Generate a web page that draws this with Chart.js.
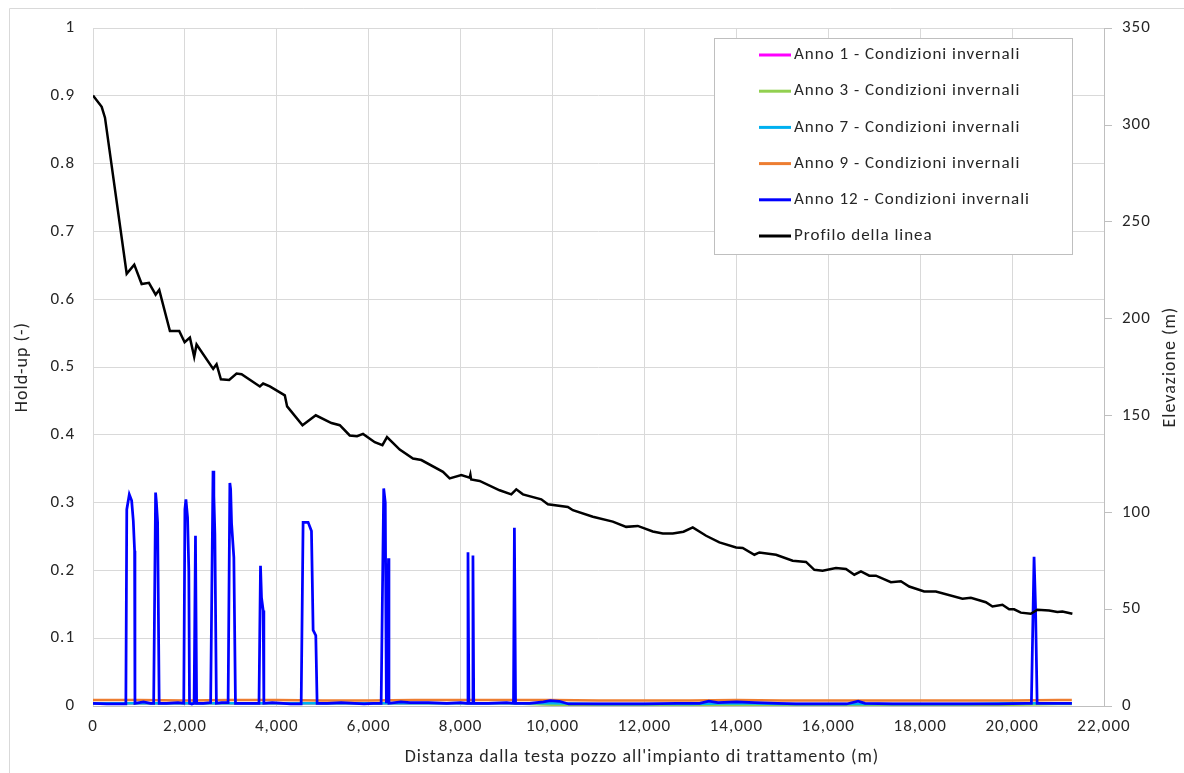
<!DOCTYPE html>
<html lang="it">
<head>
<meta charset="utf-8">
<title>Hold-up lungo la linea</title>
<script src="https://cdn.jsdelivr.net/npm/chart.js@4.4.1/dist/chart.umd.min.js"></script>
<style>
  html, body { margin: 0; padding: 0; background: #fff; }
  #wrap { position: relative; width: 1184px; height: 773px; }
</style>
</head>
<body>
<div id="wrap"><canvas id="holdupChart" width="1184" height="773"></canvas></div>
<script>
// profilo altimetrico della linea (m, m s.l.m.)
var distanzaProfilo = [0, 189, 261, 733, 898, 1059, 1217, 1363, 1441, 1674, 1876, 1994, 2109, 2202, 2254,
    2615, 2689, 2783, 2963, 3124, 3233, 3631, 3702, 3848, 4174, 4224, 4559, 4848, 5189, 5370, 5587, 5746,
    5876, 6131, 6298, 6398, 6493, 6674, 6963, 7145, 7616, 7761, 8015, 8196, 8212, 8228, 8413, 8848, 9102,
    9211, 9355, 9755, 9898, 10333, 10442, 10877, 11311, 11602, 11855, 12181, 12399, 12616, 12850, 13051,
    13342, 13631, 13994, 14138, 14392, 14501, 14863, 15225, 15516, 15697, 15877, 16168, 16385, 16566,
    16711, 16892, 17037, 17363, 17580, 17761, 18087, 18342, 18920, 19103, 19429, 19573, 19790, 19936,
    20044, 20190, 20407, 20551, 20805, 20986, 21095, 21312];
var elevazione = [315.3, 309.4, 303.8, 223.2, 227.9, 217.9, 218.5, 212.4, 214.9, 193.6, 193.6, 187.8, 190.2, 180.3, 186.7,
    174.1, 176.5, 168.7, 168.4, 171.7, 171.3, 165.0, 166.5, 165.0, 160.4, 154.7, 145.0, 150.1, 146.1, 145.0, 139.7, 139.3,
    140.5, 136.2, 134.7, 138.9, 136.7, 132.4, 127.8, 127.0, 120.9, 117.5, 119.2, 117.9, 119.4, 117.0, 116.2, 111.4, 109.3,
    111.9, 109.3, 106.7, 104.2, 102.8, 101.1, 97.7, 95.2, 92.5, 93.0, 90.1, 89.1, 89.1, 90.0, 92.2,
    87.9, 84.5, 81.9, 81.6, 78.1, 79.3, 78.1, 75.0, 74.4, 70.3, 69.9, 71.3, 70.8, 67.8,
    69.5, 67.3, 67.3, 63.9, 64.4, 61.7, 59.1, 59.1, 55.4, 55.9, 53.6, 51.4, 52.3, 49.9,
    49.9, 48.2, 47.6, 49.7, 49.3, 48.5, 48.8, 47.6];

// hold-up anni 1, 3, 7, 9 (quasi nullo lungo tutta la linea)
var distanzaBase = [0, 1000, 2000, 3000, 4000, 5000, 6000, 7000, 8000, 9000, 10000, 11000, 12000, 13000,
    14000, 15000, 16000, 17000, 18000, 19000, 20000, 21000, 21300];
var holdupAnno1 = [0.004, 0.004, 0.004, 0.004, 0.004, 0.004, 0.004, 0.004, 0.004, 0.004, 0.003, 0.003,
    0.003, 0.003, 0.004, 0.003, 0.003, 0.003, 0.003, 0.003, 0.003, 0.004, 0.004];
var holdupAnno3 = [0.004, 0.004, 0.004, 0.004, 0.004, 0.004, 0.004, 0.004, 0.004, 0.004, 0.002, 0.001,
    0.001, 0.001, 0.001, 0.001, 0.001, 0.001, 0.002, 0.002, 0.002, 0.003, 0.003];
var holdupAnno7 = [0.004, 0.004, 0.004, 0.004, 0.004, 0.004, 0.004, 0.004, 0.004, 0.004, 0.004, 0.003,
    0.003, 0.003, 0.004, 0.003, 0.003, 0.003, 0.003, 0.003, 0.004, 0.004, 0.004];
var holdupAnno9 = [0.009, 0.009, 0.008, 0.009, 0.009, 0.008, 0.008, 0.009, 0.009, 0.009, 0.009, 0.008,
    0.008, 0.008, 0.009, 0.008, 0.008, 0.008, 0.008, 0.008, 0.008, 0.009, 0.009];

// hold-up anno 12: accumuli di liquido nei punti bassi
var distanzaAnno12 = [0, 300, 715, 735, 790, 841, 877, 905, 913, 1100, 1250, 1320, 1362, 1380, 1406, 1440,
    1600, 1850, 1975, 2000, 2022, 2058, 2085, 2100, 2150, 2200, 2230, 2255, 2400, 2560, 2612, 2630, 2652,
    2685, 2800, 2940, 2978, 2995, 3015, 3065, 3100, 3300, 3612, 3645, 3667, 3703, 3718, 3900, 4300, 4530,
    4572, 4681, 4754, 4790, 4848, 4877, 5100, 5400, 5900, 6100, 6270, 6326, 6360, 6384, 6430, 6440, 6700,
    6900, 7300, 7700, 8000, 8145, 8160, 8180, 8255, 8268, 8285, 8600, 9000, 9150, 9170, 9195, 9500, 9800,
    9950, 10150, 10350, 10800, 11400, 12000, 12700, 13200, 13400, 13600, 14000, 14400, 14900, 15300,
    15900, 16400, 16650, 16800, 17400, 18200, 19000, 19700, 20300, 20420, 20478, 20510, 20545, 20800, 21300];
var holdupAnno12 = [0.004, 0.003, 0.003, 0.290, 0.312, 0.303, 0.273, 0.229, 0.004, 0.006, 0.004, 0.004, 0.315, 0.300, 0.271, 0.004,
    0.004, 0.005, 0.004, 0.290, 0.305, 0.278, 0.200, 0.004, 0.003, 0.004, 0.251, 0.004, 0.004, 0.005, 0.347, 0.310, 0.254,
    0.004, 0.005, 0.005, 0.329, 0.320, 0.270, 0.219, 0.004, 0.004, 0.004, 0.207, 0.160, 0.141, 0.004, 0.005, 0.003, 0.003,
    0.271, 0.271, 0.258, 0.112, 0.104, 0.004, 0.004, 0.005, 0.003, 0.004, 0.004, 0.321, 0.300, 0.004, 0.218, 0.004, 0.006,
    0.005, 0.005, 0.004, 0.005, 0.004, 0.227, 0.004, 0.004, 0.222, 0.004, 0.004, 0.005, 0.004, 0.263, 0.004, 0.004, 0.006,
    0.008, 0.007, 0.003, 0.003, 0.003, 0.003, 0.004, 0.004, 0.007, 0.005, 0.006, 0.005, 0.004, 0.003,
    0.003, 0.003, 0.007, 0.004, 0.003, 0.003, 0.003, 0.003, 0.004, 0.004, 0.220, 0.146, 0.004, 0.004, 0.004];

var serieNomi = ['Anno 1 - Condizioni invernali', 'Anno 3 - Condizioni invernali', 'Anno 7 - Condizioni invernali',
    'Anno 9 - Condizioni invernali', 'Anno 12 - Condizioni invernali', 'Profilo della linea'];
var serieColori = ['#ff00ff', '#92d050', '#00b0f0', '#ed7d31', '#0000ff', '#000000'];

var tickX = [0, 2000, 4000, 6000, 8000, 10000, 12000, 14000, 16000, 18000, 20000, 22000];

var FONT = 'Carlito, Calibri, "Liberation Sans", sans-serif';
var TESTO = '#262626';
var SPAZIATURA = '1px';

function punti(xs, ys) {
    return xs.map(function (x, i) { return { x: x, y: ys[i] }; });
}

function serie(i, xs, ys, asse, ordine, spessore) {
    return {
        label: serieNomi[i],
        data: punti(xs, ys),
        borderColor: serieColori[i],
        backgroundColor: serieColori[i],
        borderWidth: spessore,
        pointRadius: 0,
        tension: 0,
        fill: false,
        yAxisID: asse,
        order: ordine
    };
}

function testoVerticale(ctx, testo, x, y) {
    ctx.save();
    ctx.translate(x, y);
    ctx.rotate(-Math.PI / 2);
    ctx.fillText(testo, 0, 0);
    ctx.restore();
}

// cornice esterna, titoli degli assi e legenda a riquadro
var decorazioni = {
    id: 'decorazioni',
    beforeUpdate: function (chart) {
        chart.ctx.letterSpacing = SPAZIATURA;
    },
    beforeDraw: function (chart) {
        var ctx = chart.ctx;
        ctx.letterSpacing = SPAZIATURA;
        ctx.save();
        ctx.strokeStyle = '#d9d9d9';
        ctx.lineWidth = 1;
        ctx.beginPath();
        ctx.moveTo(9.5, chart.height);
        ctx.lineTo(9.5, 8.5);
        ctx.lineTo(chart.width, 8.5);
        ctx.stroke();
        ctx.restore();
    },
    afterDraw: function (chart) {
        var ctx = chart.ctx;
        var area = chart.chartArea;
        var centroY = (area.top + area.bottom) / 2;
        ctx.save();
        ctx.fillStyle = TESTO;
        ctx.font = '18px ' + FONT;
        ctx.textAlign = 'center';
        ctx.textBaseline = 'middle';
        testoVerticale(ctx, 'Hold-up (-)', 22, centroY);
        testoVerticale(ctx, 'Elevazione (m)', 1170, centroY);
        ctx.fillText("Distanza dalla testa pozzo all'impianto di trattamento (m)", 642, 757);
        ctx.restore();

        // legenda
        var bx = 714, by = 38, bw = 358, bh = 216;
        ctx.save();
        ctx.fillStyle = '#ffffff';
        ctx.fillRect(bx, by, bw, bh);
        ctx.strokeStyle = '#bfbfbf';
        ctx.lineWidth = 1;
        ctx.strokeRect(bx + 0.5, by + 0.5, bw, bh);
        ctx.font = '17px ' + FONT;
        ctx.textAlign = 'left';
        ctx.textBaseline = 'middle';
        chart.data.datasets.forEach(function (ds, i) {
            var y = by + 17 + i * 36.2;
            ctx.strokeStyle = ds.borderColor;
            ctx.lineWidth = 3;
            ctx.beginPath();
            ctx.moveTo(bx + 45, y);
            ctx.lineTo(bx + 77, y);
            ctx.stroke();
            ctx.fillStyle = TESTO;
            ctx.fillText(ds.label, bx + 80, y);
        });
        ctx.restore();
    }
};

var ctx = document.getElementById('holdupChart').getContext('2d');
var holdupChart = new Chart(ctx, {
    type: 'line',
    data: {
        datasets: [
            serie(0, distanzaBase, holdupAnno1, 'y', 5, 2.5),
            serie(1, distanzaBase, holdupAnno3, 'y', 4, 2.5),
            serie(2, distanzaBase, holdupAnno7, 'y', 3, 2.5),
            serie(3, distanzaBase, holdupAnno9, 'y', 2, 2.5),
            serie(4, distanzaAnno12, holdupAnno12, 'y', 1, 2.75),
            serie(5, distanzaProfilo, elevazione, 'y2', 0, 2.5)
        ]
    },
    plugins: [decorazioni],
    options: {
        responsive: false,
        animation: false,
        layout: { padding: { top: 25, left: 0, right: 0, bottom: 0 } },
        plugins: {
            legend: { display: false },
            tooltip: { enabled: false }
        },
        scales: {
            x: {
                type: 'linear',
                min: 0,
                max: 22000,
                afterFit: function (s) { s.height = 67; },
                afterBuildTicks: function (s) { s.ticks = tickX.map(function (v) { return { value: v }; }); },
                ticks: {
                    color: TESTO,
                    font: { family: FONT, size: 17 },
                    padding: 11,
                    maxRotation: 0,
                    callback: function (v) { return v.toLocaleString('en-US'); }
                },
                grid: { color: '#d9d9d9', drawTicks: false },
                border: { color: '#bfbfbf' }
            },
            y: {
                position: 'left',
                min: 0,
                max: 1,
                afterFit: function (s) { s.width = 93; },
                ticks: {
                    stepSize: 0.1,
                    color: TESTO,
                    font: { family: FONT, size: 17 },
                    padding: 18,
                    callback: function (v) { return String(Math.round(v * 10) / 10); }
                },
                grid: { color: '#d9d9d9', drawTicks: false },
                border: { display: false }
            },
            y2: {
                position: 'right',
                min: 0,
                max: 350,
                afterFit: function (s) { s.width = 80; },
                ticks: {
                    stepSize: 50,
                    color: TESTO,
                    font: { family: FONT, size: 17 },
                    padding: 10
                },
                grid: { drawOnChartArea: false, color: '#bfbfbf', tickLength: 8 },
                border: { color: '#bfbfbf' }
            }
        }
    }
});
</script>
</body>
</html>
